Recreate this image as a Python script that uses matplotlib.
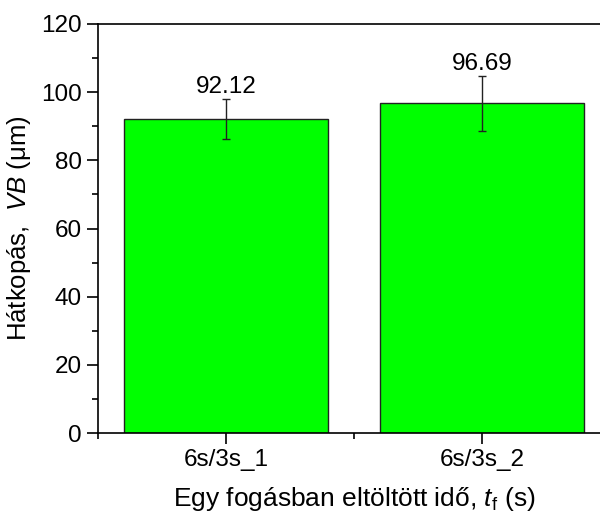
import numpy as np
import matplotlib.pyplot as plt
from matplotlib.ticker import MultipleLocator

plt.rcParams['font.family'] = ['Liberation Sans', 'DejaVu Sans']
plt.rcParams['mathtext.fontset'] = 'custom'
plt.rcParams['mathtext.rm'] = 'Liberation Sans'
plt.rcParams['mathtext.it'] = 'Liberation Sans:italic'

#======data=========#
labels = ['6s/3s_1', '6s/3s_2']
vb = [92.12, 96.69]
vb_err = [6.0, 8.1]

x = np.arange(1, len(labels) + 1)

fig = plt.figure(figsize=(6, 5.12), dpi=100)
ax = fig.add_axes([98/600, 1-433/512, 512/600, 409/512])

ax.bar(x, vb, width=0.8, color='#00ff00', edgecolor='#222222', linewidth=1.0, zorder=2)
ax.errorbar(x, vb, yerr=vb_err, fmt='none', ecolor='#222222', elinewidth=1.0,
            capsize=3, capthick=1.0, zorder=3)
for xi, v, e in zip(x, vb, vb_err):
    ax.text(xi, v + e + 0.3, '%.2f' % v, ha='center', va='bottom', fontsize=17.5)

ax.set_xlim(0.5, 2.5)
ax.set_ylim(0, 120)
ax.set_xticks(x)
ax.set_xticklabels(labels)
ax.xaxis.set_minor_locator(MultipleLocator(0.5))
ax.yaxis.set_major_locator(MultipleLocator(20))
ax.yaxis.set_minor_locator(MultipleLocator(10))
ax.tick_params(which='major', direction='out', length=8, width=1.2, labelsize=17.5)
ax.tick_params(which='minor', direction='out', length=4, width=1.2)
ax.tick_params(axis='x', which='minor', bottom=True)
for s in ax.spines.values():
    s.set_linewidth(1.2)
ax.spines['right'].set_visible(False)

ax.set_xlabel(r'Egy fogásban eltöltött idő, $\it{t}_\mathrm{f}$ (s)', fontsize=19, labelpad=10)
ax.set_ylabel(r'Hátkopás,  $\it{VB}$ (μm)', fontsize=18.5, labelpad=6)

plt.savefig('out.png', dpi=100)
